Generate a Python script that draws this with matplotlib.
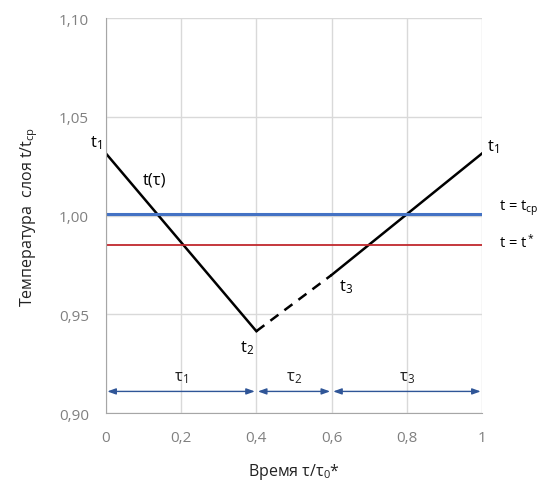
import matplotlib
matplotlib.use("Agg")
import matplotlib.pyplot as plt
from matplotlib.ticker import FuncFormatter

plt.rcParams['font.family'] = ['Open Sans', 'DejaVu Sans']
plt.rcParams['mathtext.fontset'] = 'custom'
plt.rcParams['mathtext.rm'] = 'Open Sans'
plt.rcParams['mathtext.it'] = 'Open Sans'

# Data
x_cool = [0.0, 0.4]
t_cool = [1.0316, 0.9415]
x_dash = [0.4, 0.6]
t_dash = [0.9415, 0.970]
x_heat = [0.6, 1.0]
t_heat = [0.970, 1.0316]
t_sr = 1.001
t_star = 0.985
interval_edges = [0.0, 0.4, 0.6, 1.0]
interval_labels = ['τ$_1$', 'τ$_2$', 'τ$_3$']
arrow_level = 0.911

fig = plt.figure(figsize=(5.37, 4.81), dpi=100)
ax = fig.add_axes([0.197, 0.139, 0.701, 0.821])

ax.plot(x_cool, t_cool, color='black', lw=1.8)
ax.plot(x_dash, t_dash, color='black', lw=1.8, ls=(0, (4, 3)))
ax.plot(x_heat, t_heat, color='black', lw=1.8)
ax.plot([0, 1], [t_sr, t_sr], color='#4472C4', lw=2.2)
ax.plot([0, 1], [t_star, t_star], color='#C0282D', lw=1.3)

# intervals
for a, b, lab in zip(interval_edges[:-1], interval_edges[1:], interval_labels):
    ax.annotate('', xy=(b - 0.004, arrow_level), xytext=(a + 0.004, arrow_level),
                arrowprops=dict(arrowstyle='<|-|>,head_length=0.5,head_width=0.18',
                                color='#2F5597', lw=1.0, shrinkA=0, shrinkB=0))
    ax.text((a + b) / 2, arrow_level + 0.003, lab, ha='center', va='bottom',
            fontsize=12, color='#222222')

# point labels
ax.text(-0.01, 1.037, 't$_1$', ha='right', va='center', fontsize=12)
ax.text(0.13, 1.0185, 't(τ)', ha='center', va='center', fontsize=12)
ax.text(0.375, 0.938, 't$_2$', ha='center', va='top', fontsize=12)
ax.text(0.62, 0.969, 't$_3$', ha='left', va='top', fontsize=12)
ax.text(1.012, 1.035, 't$_1$', ha='left', va='center', fontsize=12)
ax.text(1.045, 1.003, 't = t$_{ср}$', ha='left', va='baseline', fontsize=10.5, clip_on=False)
ax.text(1.045, 0.9845, 't = t$^*$', ha='left', va='baseline', fontsize=10.5, clip_on=False)

ax.set_xlim(0, 1)
ax.set_ylim(0.90, 1.10)
ax.set_xticks([0, 0.2, 0.4, 0.6, 0.8, 1.0])
ax.set_yticks([0.90, 0.95, 1.00, 1.05, 1.10])
ax.xaxis.set_major_formatter(FuncFormatter(lambda v, p: ('%g' % round(v, 2)).replace('.', ',')))
ax.yaxis.set_major_formatter(FuncFormatter(lambda v, p: ('%.2f' % v).replace('.', ',')))
ax.grid(True, color='#D9D9D9', lw=1.0)
ax.set_axisbelow(True)
for s in ['top', 'right']:
    ax.spines[s].set_visible(False)
for s in ['left', 'bottom']:
    ax.spines[s].set_color('#A6A6A6')
ax.tick_params(length=0, labelsize=11, labelcolor='#808080', pad=12)

ax.set_xlabel('Время τ/τ$_0$*', fontsize=11.5, labelpad=12, color='#222222')
ax.set_ylabel('Температура  слоя t/t$_{ср}$', fontsize=11.5, labelpad=14, color='#222222')

fig.savefig('out.png', dpi=100)
